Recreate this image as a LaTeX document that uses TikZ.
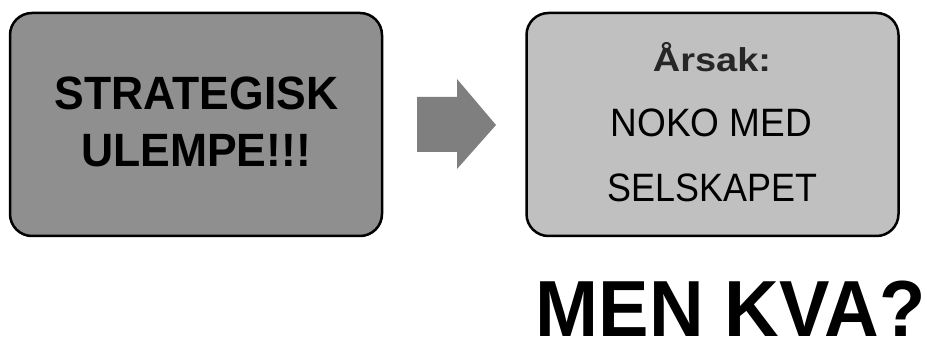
\documentclass[tikz,border=0pt]{standalone}
\usepackage{fontspec}
\setmainfont{Liberation Sans}
\usepackage{graphicx}
\definecolor{boxdark}{HTML}{8F8F8F}
\definecolor{boxlight}{HTML}{C0C0C0}
\definecolor{arrowgray}{HTML}{7F7F7F}
\definecolor{labelgray}{HTML}{262626}
\tikzset{
  panel/.style={draw=black, line width=2.5pt, rounded corners=22pt, rectangle,
    minimum width=372pt, minimum height=223pt, inner sep=0pt},
  txt/.style={anchor=base, inner sep=0pt, outer sep=0pt, text=black},
}
\begin{document}
\begin{tikzpicture}[x=1pt,y=-1pt]
\path[use as bounding box, fill=white] (0,0) rectangle (927,344);
% boxes
\node[panel, fill=boxdark] (left) at (196,124.5) {};
\node[panel, fill=boxlight] (right) at (712.5,124.5) {};
% block arrow
\fill[arrowgray] (417,97) -- (457,97) -- (457,79) -- (496,125) -- (457,169) -- (457,152) -- (417,152) -- cycle;
% left text
\node[txt] (l1) at (196.5,110) {\scalebox{1}[1.05]{\fontsize{44.5}{44.5}\selectfont\bfseries STRATEGISK}};
\node[txt] (l2) at (196,167) {\scalebox{1}[1.05]{\fontsize{44.5}{44.5}\selectfont\bfseries ULEMPE!!!}};
% right text
\node[txt, text=labelgray] (r1) at (712,72) {\scalebox{1.15}[1]{\fontsize{33}{33}\selectfont\bfseries Årsak:}};
\node[txt] (r2) at (711.5,137) {\scalebox{1}[1.07]{\fontsize{37}{37}\selectfont NOKO MED}};
\node[txt] (r3) at (712.5,202) {\scalebox{0.97}[1.07]{\fontsize{37}{37}\selectfont SELSKAPET}};
% bottom text
\node[txt] (q) at (730.5,337) {\scalebox{0.97}[1.02]{\fontsize{78}{78}\selectfont\bfseries MEN KVA?}};
\end{tikzpicture}
\end{document}
